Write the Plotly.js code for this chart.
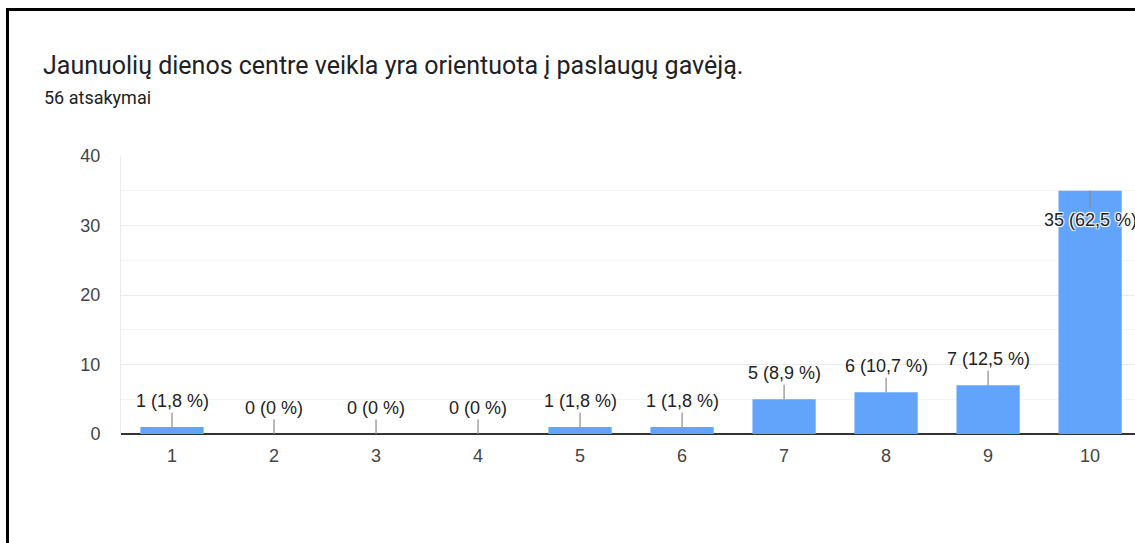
<!DOCTYPE html>
<html>
<head>
<meta charset="utf-8">
<script src="https://cdn.plot.ly/plotly-3.0.1.min.js"></script>
<style>
  html, body { margin: 0; padding: 0; background: #fff; overflow: hidden; }
  #wrap { position: relative; width: 1135px; height: 543px; }
  #chart { position: absolute; left: 0; top: 0; width: 1135px; height: 543px; }
  #frame { position: absolute; left: 6px; top: 8px; width: 1200px; height: 600px;
           border-left: 3px solid #000; border-top: 3px solid #000; pointer-events: none; }
</style>
</head>
<body>
<div id="wrap">
  <div id="chart"></div>
  <div id="frame"></div>
</div>
<script>
const titleText = "Jaunuolių dienos centre veikla yra orientuota į paslaugų gavėją.";
const subtitleText = "56 atsakymai";
const categories = [1, 2, 3, 4, 5, 6, 7, 8, 9, 10];
const counts = [1, 0, 0, 0, 1, 1, 5, 6, 7, 35];
const percents = [1.8, 0, 0, 0, 1.8, 1.8, 8.9, 10.7, 12.5, 62.5];
const yTicks = [0, 10, 20, 30, 40];

const fmtPct = p => String(p).replace('.', ',');
const maxCount = Math.max(...counts);

const annotations = categories.map((c, i) => {
  const inside = counts[i] === maxCount;
  return {
    x: c, y: counts[i], xref: 'x', yref: 'y',
    text: counts[i] + ' (' + fmtPct(percents[i]) + ' %)',
    showarrow: true, arrowhead: 0, arrowwidth: 1.2, arrowcolor: '#8c8c8c',
    standoff: 0, startstandoff: 0,
    ax: 0, ay: inside ? 29 : -26,
    font: {family: 'Liberation Sans, Arial, sans-serif', size: 18, color: '#222222',
           shadow: inside ? '1px 1px 1px #fff, -1px -1px 1px #fff, 1px -1px 1px #fff, -1px 1px 1px #fff' : 'none'},
    bgcolor: 'rgba(0,0,0,0)'
  };
});

annotations.push({
  xref: 'paper', yref: 'paper', x: (42 - 121) / 1014, y: 1 + (156 - 97) / 278,
  xanchor: 'left', yanchor: 'middle', showarrow: false,
  text: subtitleText,
  font: {family: 'Roboto, sans-serif', size: 18, color: '#202124'}
});

const data = [{
  type: 'bar',
  x: categories,
  y: counts,
  width: 0.62,
  marker: {color: '#62a3fc'},
  hoverinfo: 'none'
}];

const layout = {
  width: 1135, height: 543,
  margin: {l: 121, r: 0, t: 156, b: 109, pad: 0},
  paper_bgcolor: '#ffffff', plot_bgcolor: '#ffffff',
  showlegend: false,
  title: {
    text: titleText,
    xref: 'container', yref: 'container',
    x: 43 / 1135, xanchor: 'left',
    y: 1 - 65 / 543, yanchor: 'middle',
    font: {family: 'Roboto, sans-serif', size: 25, color: '#202124'}
  },
  xaxis: {
    range: [0.5, 10.44],
    tickmode: 'array', tickvals: categories, ticktext: categories.map(String),
    showgrid: false, zeroline: false, showline: false,
    ticks: 'outside', ticklen: 5, tickcolor: 'rgba(0,0,0,0)',
    tickfont: {family: 'Liberation Sans, Arial, sans-serif', size: 18, color: '#444444'},
    fixedrange: true
  },
  yaxis: {
    range: [0, 40],
    tickmode: 'array', tickvals: yTicks, ticktext: yTicks.map(String),
    showgrid: true, gridcolor: '#ebebeb', gridwidth: 1,
    minor: {dtick: 5, tick0: 0, showgrid: true, gridcolor: '#f4f4f4', gridwidth: 1},
    zeroline: true, zerolinecolor: '#333333', zerolinewidth: 1.5,
    showline: true, linecolor: '#ebebeb', linewidth: 1,
    ticks: 'outside', ticklen: 16, tickcolor: 'rgba(0,0,0,0)',
    tickfont: {family: 'Liberation Sans, Arial, sans-serif', size: 18, color: '#444444'},
    fixedrange: true
  },
  annotations: annotations
};

Plotly.newPlot('chart', data, layout, {displayModeBar: false, staticPlot: true});
</script>
</body>
</html>
